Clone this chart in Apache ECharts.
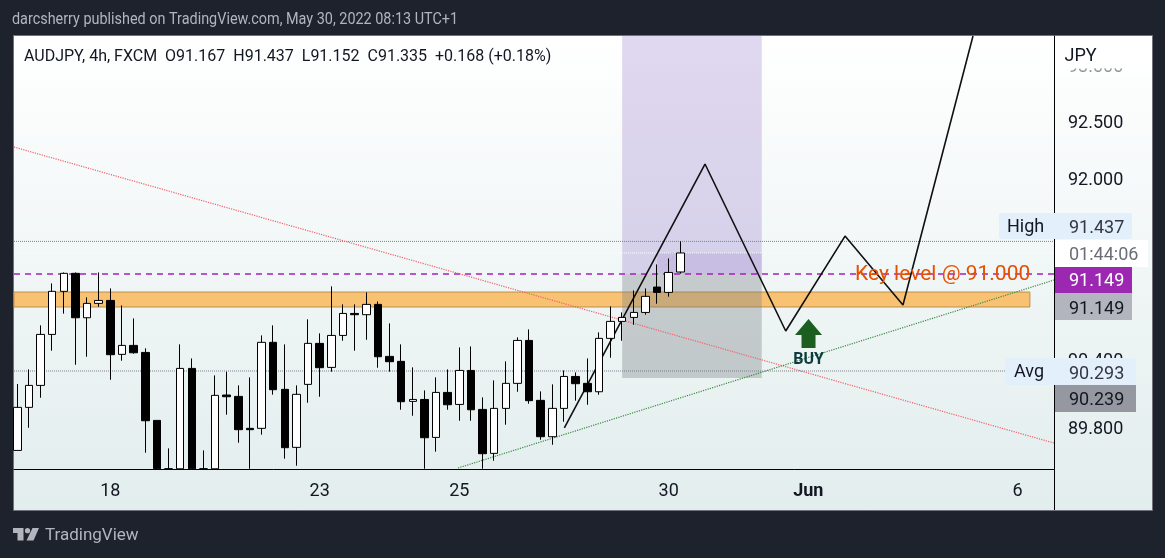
<!DOCTYPE html>
<html><head><meta charset="utf-8">
<style>html,body{margin:0;padding:0;background:#1e222d}#c{width:1165px;height:558px}</style>
<script src="https://cdn.jsdelivr.net/npm/echarts@6/dist/echarts.min.js"></script>
</head><body><div id="c"></div>
<script>
// ---- candle values, in price (JPY); parts below the visible window sit at its floor ----
const opens  = [89.592,89.972,90.166,90.616,90.996,91.155,90.763,90.890,90.916,90.440,90.519,90.457,89.857,89.430,89.430,90.316,89.430,89.430,90.081,90.069,89.787,89.787,90.546,90.131,89.619,90.175,90.537,90.325,90.607,90.801,90.790,90.881,90.422,90.378,90.025,90.042,89.707,90.104,89.998,90.298,89.954,89.566,89.963,90.184,90.563,90.034,89.713,89.963,90.245,90.184,90.110,90.581,90.731,90.766,90.810,91.034,90.987,91.167];
const closes = [89.972,90.166,90.616,90.996,91.155,90.763,90.890,90.916,90.437,90.519,90.454,89.854,89.430,89.430,90.316,89.430,89.430,90.078,90.066,89.775,89.775,90.546,90.128,89.616,90.087,90.537,90.322,90.607,90.801,90.790,90.881,90.419,90.375,90.022,90.042,89.704,90.104,89.995,90.298,89.951,89.563,89.963,90.184,90.563,90.031,89.713,89.963,90.245,90.181,90.110,90.581,90.731,90.766,90.810,90.952,90.987,91.163,91.335];
const lows   = [89.592,89.792,90.057,90.472,90.799,90.348,90.419,90.860,90.216,90.384,90.446,89.572,89.430,89.430,89.430,89.430,89.430,89.430,89.907,89.660,89.430,89.731,90.084,89.519,89.457,90.013,90.066,90.287,90.560,90.472,90.569,90.322,90.287,89.951,89.898,89.430,89.581,89.951,89.854,89.854,89.430,89.501,89.819,90.110,90.004,89.686,89.642,89.845,90.031,89.995,90.084,90.410,90.560,90.701,90.790,90.887,90.949,91.152];
const highs  = [90.178,90.307,90.696,91.066,91.163,91.163,90.943,91.163,91.022,90.872,90.757,90.493,89.857,89.610,90.528,90.404,89.592,90.254,90.287,90.166,90.237,90.607,90.696,90.528,90.166,90.749,90.625,91.040,90.881,90.881,90.987,90.907,90.713,90.528,90.325,90.122,90.237,90.307,90.501,90.510,90.060,90.210,90.378,90.590,90.660,90.113,90.175,90.298,90.281,90.404,90.634,90.863,90.810,91.004,91.022,91.234,91.287,91.437];

// ---- axis ----
const xBounds = [-0.284, 89.124];
const yBounds = [89.428, 93.25];
const xTickIndex = [8, 26, 38, 56, 68, 86];
const xTickLabels = ['18', '23', '25', '30', 'Jun', '6'];
const yTicks = [89.8, 90.4, 92, 92.5, 93];

// ---- levels and drawings ----
const highLevel = 91.437, avgLevel = 90.293, closeLevel = 91.335, keyLevel = 91.149;
const redTrend = [[-0.284, 92.27], [89.124, 89.657]];
const greenTrend = [[37.89, 89.437], [89.124, 91.096]];
const pathDrawing = [[47.03, 89.792], [59.12, 92.12], [66.06, 90.646], [71.16, 91.484], [76.14, 90.875], [82.16, 93.25]];
const ghostDrawing = [[55.68, 91.22], [56.71, 91.33], [56.2, 91.339]];
const keyZone = [[-0.284, 90.99], [87.05, 90.858]];
const purpleZone = [[52, 93.25], [64, 91.149]];
const grayZone = [[52, 91.149], [64, 90.231]];
const fillZone = [[55, 91.334], [64, 91.149]];

const candleData = opens.map((o, i) => [i, o, closes[i], lows[i], highs[i]]);
const FONT = 'Roboto';
const flat = (v) => [[xBounds[0], v], [xBounds[1], v]];
const lineSeries = (data, color, type, width, z) => ({
  type: 'line', data, z, silent: true, symbol: 'none', animation: false,
  lineStyle: { color, type, width }
});
const zone = (range, style) => [
  { xAxis: range[0][0], yAxis: range[0][1], itemStyle: style },
  { xAxis: range[1][0], yAxis: range[1][1] }
];
const txt = (text, x, y, fill, size, align, extra) => ({
  type: 'text', z: 60, silent: true,
  style: Object.assign({ text, x, y, fill, font: (size || 18) + 'px ' + FONT, textAlign: align || 'left', textVerticalAlign: 'middle' }, extra || {})
});
const box = (x, y, w, h, fill, r) => ({
  type: 'rect', z: 50, silent: true, shape: { x, y, width: w, height: h, r: r || 0 }, style: { fill }
});

const chart = echarts.init(document.getElementById('c'), null, { renderer: 'canvas' });
chart.setOption({
  animation: false,
  backgroundColor: '#1e222d',
  grid: { left: 14, top: 36, width: 1040, height: 433, containLabel: false },
  xAxis: {
    type: 'value', min: xBounds[0], max: xBounds[1], position: 'bottom',
    splitLine: { show: false },
    axisTick: { show: false },
    axisLine: { show: true, onZero: false, lineStyle: { color: '#000', width: 1 } },
    axisLabel: {
      customValues: xTickIndex, margin: 13, color: '#131722', fontFamily: FONT, fontSize: 18,
      formatter: (v) => { const s = xTickLabels[xTickIndex.indexOf(v)]; return s === 'Jun' ? '{b|' + s + '}' : s; },
      rich: { b: { fontWeight: 'bold', fontFamily: FONT, fontSize: 18, color: '#131722' } }
    }
  },
  yAxis: {
    type: 'value', min: yBounds[0], max: yBounds[1], position: 'right',
    splitLine: { show: false },
    axisTick: { show: false },
    axisLine: { show: true, onZero: false, lineStyle: { color: '#000', width: 1 } },
    axisLabel: {
      customValues: yTicks, margin: 14, color: '#131722', fontFamily: FONT, fontSize: 18,
      formatter: (v) => '{a|' + v.toFixed(3) + '}',
      rich: { a: { padding: [6, 0, 0, 0], fontFamily: FONT, fontSize: 18, color: '#131722' } }
    }
  },
  series: [
    {
      type: 'line', data: [], z: 1, silent: true, symbol: 'none', animation: false,
      markArea: {
        silent: true, animation: false, label: { show: false },
        data: [
          zone(keyZone, { color: '#f9c272', borderColor: '#b8904a', borderWidth: 1, opacity: 1 }),
          zone(purpleZone, { color: 'rgba(103,58,183,0.2)', opacity: 1 }),
          zone(grayZone, { color: 'rgba(125,130,135,0.37)', opacity: 1 }),
          zone(fillZone, { color: 'rgba(103,58,183,0.12)', opacity: 1 })
        ]
      }
    },
    lineSeries(flat(highLevel), '#7d808a', 'dotted', 1, 2),
    lineSeries(flat(avgLevel), '#7d808a', 'dotted', 1, 2),
    lineSeries(flat(closeLevel), 'rgba(255,255,255,0.9)', 'dotted', 1, 2),
    lineSeries(flat(keyLevel), '#a61fbd', [6, 5], 1.5, 2),
    lineSeries(redTrend, '#f0606a', 'dotted', 1.2, 2),
    lineSeries(greenTrend, '#3a8a45', 'dotted', 1.2, 2),
    lineSeries(pathDrawing, '#111111', 'solid', 1.6, 3),
    lineSeries(ghostDrawing, 'rgba(170,172,180,0.6)', [3, 2], 1, 3),
    {
      type: 'candlestick', data: candleData, z: 4, barWidth: 8, animation: false, silent: true,
      itemStyle: { color: '#ffffff', color0: '#000000', borderColor: '#000000', borderColor0: '#000000', borderWidth: 1 }
    },
    {
      type: 'scatter', z: 5, silent: true, animation: false,
      itemStyle: { opacity: 1 },
      data: [
        { value: [68.02, 90.624], symbol: 'path://M13.5 0 L27 16 L20.5 16 L20.5 29 L6.5 29 L6.5 16 L0 16 Z', symbolSize: [27, 29], itemStyle: { color: '#1b5e20', opacity: 1 } },
        { value: [68.02, 90.39], symbolSize: 0, label: { show: true, formatter: 'BUY', position: 'inside', color: '#0c3b3d', fontFamily: FONT, fontWeight: 'bold', fontSize: 16, opacity: 1 } },
        { value: [79.55, 91.14], symbolSize: 0, label: { show: true, formatter: 'Key level @ 91.000', position: 'inside', color: '#e65100', fontFamily: FONT, fontSize: 21, opacity: 1 } }
      ]
    }
  ],
  graphic: { elements: [
    {
      type: 'rect', z: -1, silent: true, shape: { x: 13.5, y: 35.5, width: 1139, height: 475 },
      style: {
        stroke: '#6f727c', lineWidth: 1,
        fill: new echarts.graphic.LinearGradient(0, 0, 0, 1, [{ offset: 0, color: '#ffffff' }, { offset: 1, color: '#e2eded' }])
      }
    },
    { type: 'line', z: 1, silent: true, shape: { x1: 1054.5, y1: 469, x2: 1054.5, y2: 510 }, style: { stroke: '#000', lineWidth: 1 } },
    // top of the price scale covers the clipped 93.000 tick
    {
      type: 'rect', z: 50, silent: true, shape: { x: 1056, y: 36, width: 95.5, height: 39 },
      style: { fill: new echarts.graphic.LinearGradient(0, 0, 0, 1, [{ offset: 0, color: '#ffffff' }, { offset: 0.82, color: '#ffffff' }, { offset: 0.84, color: 'rgba(255,255,255,0.6)' }, { offset: 1, color: 'rgba(255,255,255,0.4)' }]) }
    },
    txt('JPY', 1064.5, 56, '#131722'),
    // header and footer (the header is a condensed 16px line)
    Object.assign(txt('darcsherry published on TradingView.com, May 30, 2022 08:13 UTC+1', 0, 0, '#b2b5be', 16), { x: 12, y: 20, scaleX: 0.9 }),
    txt('AUDJPY, 4h, FXCM  O91.167  H91.437  L91.152  C91.335  +0.168 (+0.18%)', 24, 57, '#131722', 16),
    txt('TradingView', 45, 536, '#b2b5be', 17),
    { type: 'polygon', z: 60, silent: true, shape: { points: [[13, 528], [23.5, 528], [23.5, 540.5], [17.5, 540.5], [17.5, 533], [13, 533]] }, style: { fill: '#b2b5be' } },
    { type: 'circle', z: 60, silent: true, shape: { cx: 27.5, cy: 530.7, r: 2.6 }, style: { fill: '#b2b5be' } },
    { type: 'polygon', z: 60, silent: true, shape: { points: [[32.5, 528], [39, 528], [33.5, 540.5], [26.5, 540.5]] }, style: { fill: '#b2b5be' } },
    // price-scale badges
    box(999, 213, 133, 26, '#e3effb', 2),
    txt('High', 1007, 227, '#131722'),
    txt('91.437', 1069, 228, '#333742'),
    box(1055, 240, 93, 27, '#ffffff', 0),
    txt('01:44:06', 1069, 255, '#6b6e78'),
    box(1055, 267, 77, 26, '#9c27b0', 0),
    txt('91.149', 1069, 281, '#ffffff'),
    box(1055, 293, 77, 27, '#b2b5be', 0),
    txt('91.149', 1069, 309, '#131722'),
    box(1005, 358, 131, 27, '#e3effb', 2),
    txt('Avg', 1014, 372, '#131722'),
    txt('90.293', 1069, 374, '#333742'),
    box(1055, 385, 81, 27, '#9598a1', 0),
    txt('90.239', 1069, 400, '#131722')
  ] }
});
</script></body></html>
